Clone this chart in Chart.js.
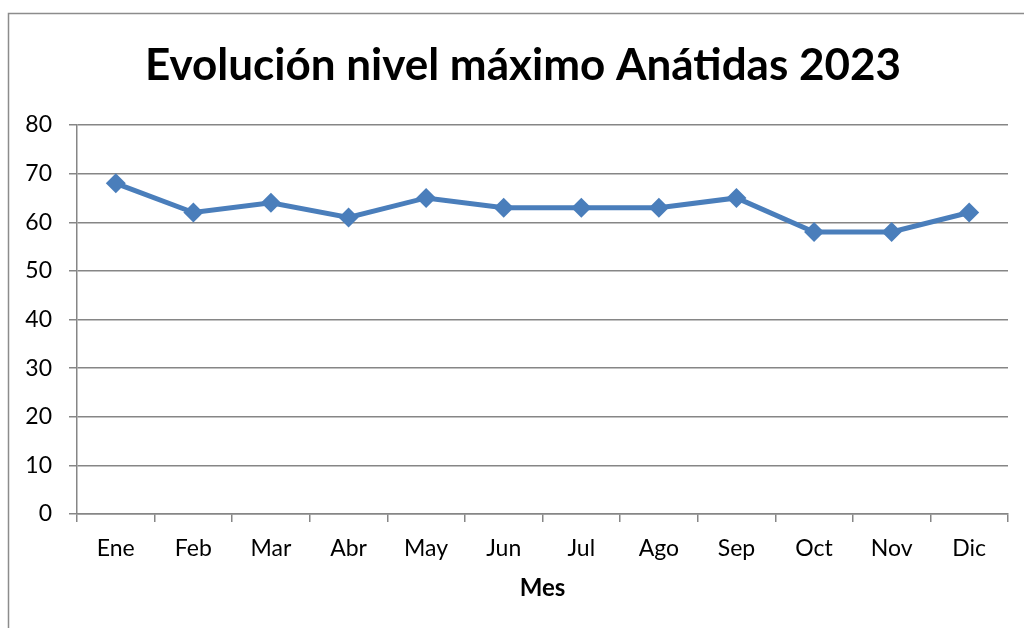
<!DOCTYPE html>
<html><head><meta charset="utf-8">
<script src="https://cdn.jsdelivr.net/npm/chart.js@4"></script>
<style>html,body{margin:0;padding:0;background:#fff;}#wrap{width:1024px;height:628px;}</style>
</head><body><div id="wrap"><canvas id="c" width="1024" height="628"></canvas></div>
<script>
const categories = ['Ene','Feb','Mar','Abr','May','Jun','Jul','Ago','Sep','Oct','Nov','Dic'];
const values = [68, 62, 64, 61, 65, 63, 63, 63, 65, 58, 58, 62];
const yTicks = [0, 10, 20, 30, 40, 50, 60, 70, 80];
const titleText = 'Evolución nivel máximo Anátidas 2023';
const xTitle = 'Mes';

const FONT = 'Lato, Calibri, Carlito, sans-serif';
const frame = {
  id: 'frame',
  beforeDraw(chart) {
    const c = chart.ctx;
    c.save();
    c.fillStyle = '#fff';
    c.fillRect(0, 0, chart.width, chart.height);
    c.strokeStyle = '#8c8c8c';
    c.lineWidth = 1.5;
    c.beginPath();
    c.moveTo(8.5, 628);
    c.lineTo(8.5, 13.5);
    c.lineTo(1024, 13.5);
    c.stroke();
    c.restore();
  },
  afterDraw(chart) {
    const c = chart.ctx;
    c.save();
    c.fillStyle = '#000';
    c.font = 'bold 44px ' + FONT;
    c.textAlign = 'center';
    c.textBaseline = 'middle';
    c.fillText(titleText, 523, 66);
    c.restore();
  }
};

new Chart(document.getElementById('c'), {
  type: 'line',
  data: {
    labels: categories,
    datasets: [{
      data: values,
      borderColor: '#4A7EBB',
      backgroundColor: '#4A7EBB',
      borderWidth: 5,
      pointStyle: 'rectRot',
      pointRadius: 10,
      pointHoverRadius: 10,
      pointBorderWidth: 0,
      tension: 0
    }]
  },
  options: {
    responsive: false,
    animation: false,
    events: [],
    layout: { padding: { left: 0, right: 16, top: 125, bottom: 0 } },
    plugins: {
      legend: { display: false },
      tooltip: { enabled: false },
      title: { display: false }
    },
    scales: {
      x: {
        offset: true,
        afterFit(s) { s.height = 114; },
        grid: { offset: true, drawOnChartArea: false, drawTicks: true, tickLength: 8, color: '#868686', lineWidth: 1.5 },
        border: { color: '#868686', width: 1.5 },
        ticks: { color: '#000', font: { family: FONT, size: 23 }, padding: 13, maxRotation: 0 },
        title: { display: true, text: xTitle, color: '#000', font: { family: FONT, size: 24, weight: 'bold' }, padding: { top: 0, bottom: 25 } }
      },
      y: {
        min: 0, max: 80,
        afterFit(s) { s.width = 77; },
        afterBuildTicks(s) { s.ticks = yTicks.map(v => ({ value: v })); },
        grid: { color: '#868686', lineWidth: 1.5, tickLength: 8 },
        border: { color: '#868686', width: 1.5 },
        ticks: { color: '#000', font: { family: FONT, size: 23 }, padding: 17 }
      }
    }
  },
  plugins: [frame]
});
</script></body></html>
